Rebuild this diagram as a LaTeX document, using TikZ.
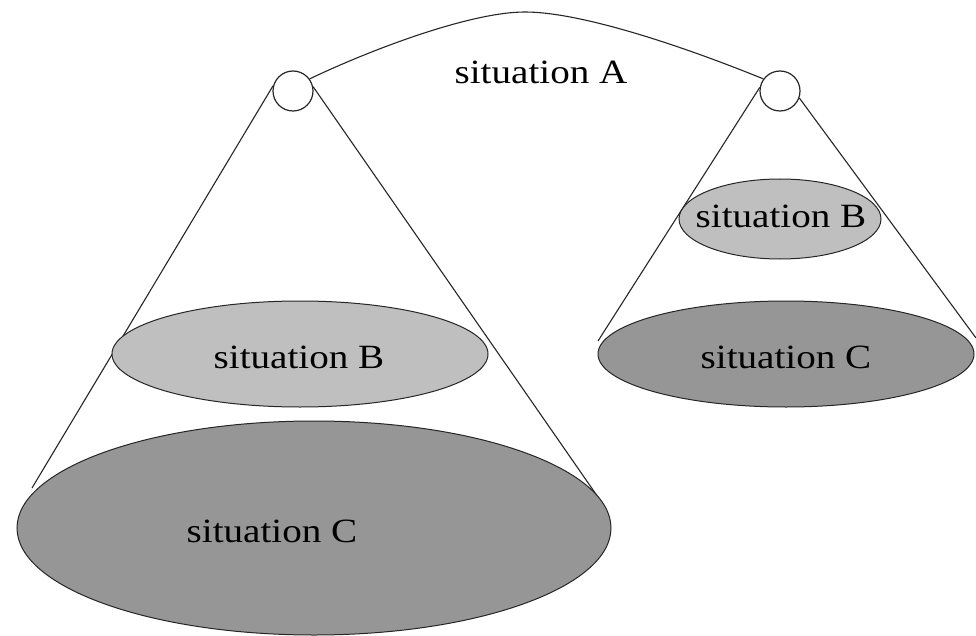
\documentclass[tikz,border=0pt]{standalone}
\usepackage{fontspec}
\setmainfont{Liberation Serif}[FakeStretch=1.15]
\usetikzlibrary{positioning,shapes.geometric}
\definecolor{mylightgray}{rgb}{0.75,0.75,0.75}
\definecolor{mydarkgray}{rgb}{0.59,0.59,0.59}

\begin{document}
\begin{tikzpicture}[x=1pt, y=-1pt, font=\fontsize{34}{40}\selectfont,
  knot/.style={circle, draw=black!85, line width=1.2pt, fill=white, minimum size=40pt, inner sep=0pt},
  sitB/.style={ellipse, draw=black!85, line width=1pt, fill=mylightgray, inner sep=0pt},
  sitC/.style={ellipse, draw=black!85, line width=1pt, fill=mydarkgray, inner sep=0pt},
  coneline/.style={draw=black!85, line width=1.1pt}]

\useasboundingbox (0,0) rectangle (976,636);

% Situation A: the two roots and the arch between them
\node[knot] (rootL) at (293,91) {};
\node[knot] (rootR) at (780,91) {};
\coordinate (archTop) at (525,12);
\draw[coneline] (rootL.36) .. controls (370,50) and (470,12) .. (archTop)
  .. controls (580,12) and (680,45) .. (rootR.144);
\node at (541,72) {situation A};

% cone edges
\coordinate (lowLeft) at (32,488);
\coordinate (lowRight) at (600,500);
\coordinate (highLeft) at (598,341);
\coordinate (highRight) at (976,338);
\draw[coneline] (rootL.165) -- (lowLeft);
\draw[coneline] (rootL.12) -- (lowRight);
\draw[coneline] (rootR.170) -- (highLeft);
\draw[coneline] (rootR.-20) -- (highRight);

% left cone: situation B and C
\node[sitB, minimum width=376pt, minimum height=106pt] (lowB) at (300,354) {};
\node at (299,357) {situation B};
\node[sitC, minimum width=594pt, minimum height=214pt] (lowC) at (314,528) {};
\node at (272,531) {situation C};

% right cone: situation B and C
\node[sitB, minimum width=202pt, minimum height=80pt] (highB) at (780,219) {};
\node at (781,216) {situation B};
\node[sitC, minimum width=376pt, minimum height=106pt] (highC) at (786,354) {};
\node at (786,357) {situation C};

\end{tikzpicture}
\end{document}
